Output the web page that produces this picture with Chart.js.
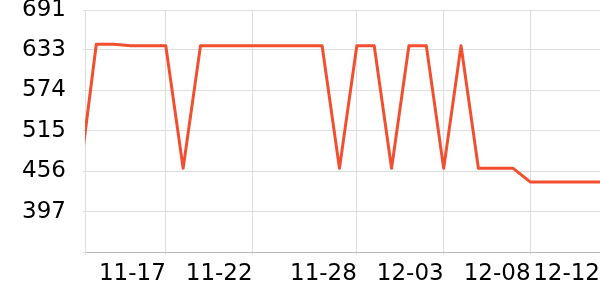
<!DOCTYPE html>
<html><head><meta charset="utf-8">
<script src="https://cdn.jsdelivr.net/npm/chart.js@4"></script>
<style>html,body{margin:0;padding:0;background:#fff}#wrap{width:600px;height:300px}</style>
</head><body><div id="wrap"><canvas id="c" width="600" height="300"></canvas></div>
<script>
const dates = ['11-12','11-13','11-14','11-15','11-16','11-17','11-18','11-19','11-20','11-21','11-22','11-23','11-24','11-25','11-26','11-27','11-28','11-29','11-30','12-01','12-02','12-03','12-04','12-05','12-06','12-07','12-08','12-09','12-10','12-11','12-12'];
const values = [440,641,641,639,639,639,460,639,639,639,639,639,639,639,639,460,639,639,460,639,639,460,639,460,460,460,440,440,440,440,440];
const xTickLabels = ['11-17','11-22','11-28','12-03','12-08','12-12'];
const yTickValues = [338,397,456,515,574,633,691];
const yTickLabels = ['','397','456','515','574','633','691'];
const X_MIN = 0.35;

const font = {family:'DejaVu Sans', size:23};
new Chart(document.getElementById('c'), {
  type:'line',
  data:{datasets:[{
    data: values.map((v,i)=>({x:i, y:v})),
    borderColor:'#f24e30', borderWidth:3, pointRadius:0, tension:0, fill:false,
    borderJoinStyle:'round'
  }]},
  options:{
    responsive:false, animation:false,
    plugins:{legend:{display:false}, tooltip:{enabled:false}},
    layout:{padding:{top:10,right:0,left:0,bottom:0}},
    scales:{
      x:{
        type:'linear', min:X_MIN, max:dates.length-1,
        afterBuildTicks:s=>{ s.ticks=[{value:X_MIN}].concat(xTickLabels.map(l=>({value:dates.indexOf(l)}))); },
        afterFit:s=>{ s.height=48; s.paddingLeft=0; s.paddingRight=0; },
        ticks:{autoSkip:false, maxRotation:0, align:'end', padding:5, color:'#000', font:font,
          callback:(v)=> Number.isInteger(v) ? dates[v] : ''},
        grid:{color:'#dddddd', tickLength:3},
        border:{color:'#bbbbbb'}
      },
      y:{
        min:yTickValues[0], max:yTickValues[yTickValues.length-1],
        afterBuildTicks:s=>{ s.ticks=yTickValues.map(v=>({value:v})); },
        afterFit:s=>{ s.width=85; s.paddingTop=0; s.paddingBottom=0; },
        ticks:{padding:17, color:'#000', font:font,
          callback:(v)=> yTickLabels[yTickValues.indexOf(v)]},
        grid:{color:'#dddddd', tickLength:2},
        border:{color:'#dddddd'}
      }
    }
  }
});
</script></body></html>
